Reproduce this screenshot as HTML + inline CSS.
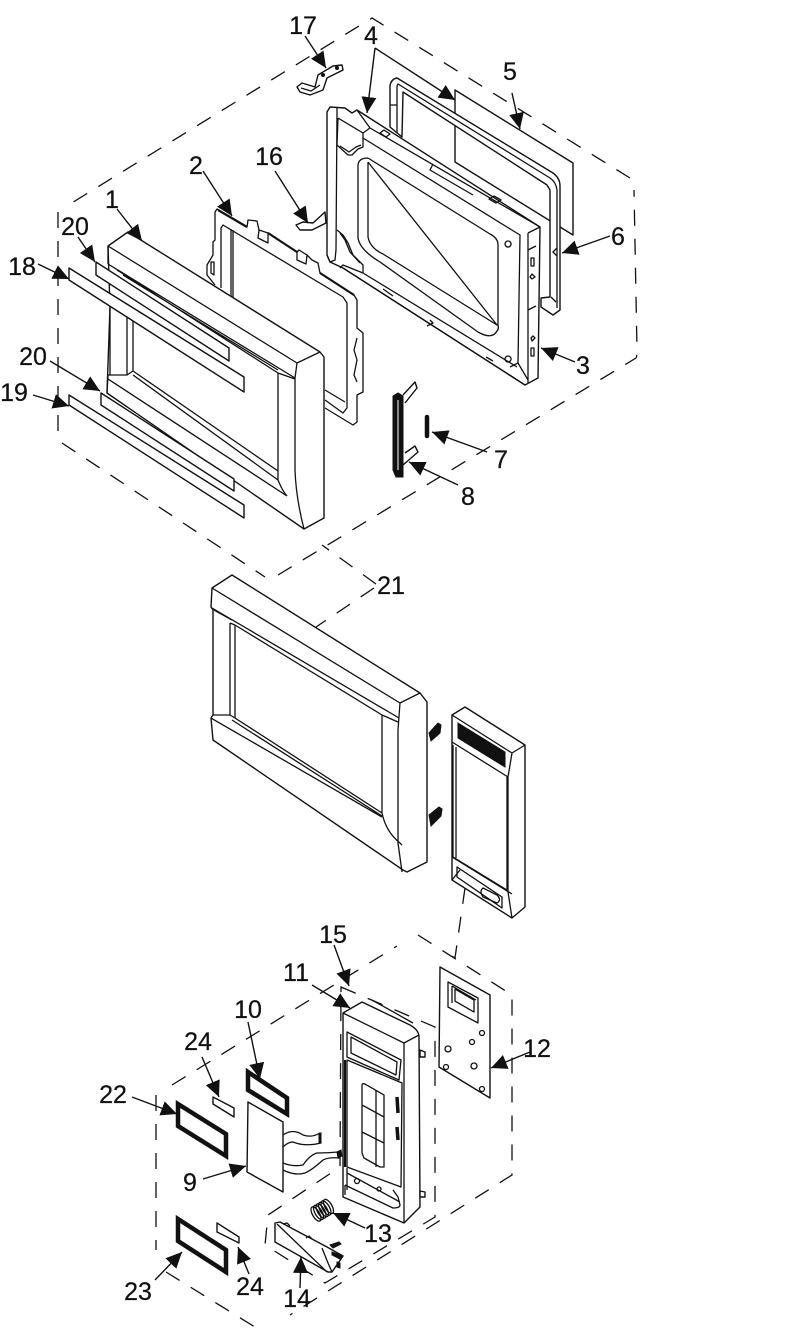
<!DOCTYPE html>
<html><head><meta charset="utf-8"><style>
html,body{margin:0;padding:0;background:#fff}
svg{display:block}
text{font-family:"Liberation Sans",sans-serif;font-size:25px;fill:#111;stroke:#111;stroke-width:.25;text-anchor:middle}
.l{fill:#fff;stroke:#111;stroke-width:1.4;stroke-linejoin:round}
.n{fill:none;stroke:#111;stroke-width:1.3;stroke-linejoin:round}
.t{fill:none;stroke:#111;stroke-width:2.2;stroke-linejoin:round}
.k{fill:#111;stroke:#111;stroke-width:1}
.d{fill:none;stroke:#111;stroke-width:1.3;stroke-dasharray:16 13}
.a{fill:none;stroke:#111;stroke-width:1.4;marker-end:url(#m)}
.f{fill:#fff;stroke:#111;stroke-width:4.5;stroke-linejoin:miter}
</style></head><body>
<svg width="790" height="1333" viewBox="0 0 790 1333" xmlns="http://www.w3.org/2000/svg">
<defs><marker id="m" markerUnits="userSpaceOnUse" markerWidth="17" markerHeight="15" refX="16" refY="7.5" orient="auto"><path d="M0 0L16 7.5L0 15Z" fill="#111"/></marker></defs>
<!-- dashed envelope top -->
<path class="d" d="M58 212V436M62 443L265 577M278 575L636 358Q637 357 637 350L634 190M630 178L372 18L70 204"/>
<path class="d" stroke-dasharray="12 8" d="M376 584L322 545M374 588L316 627"/>
<!-- panel 5, gasket 6 -->
<path class="l" d="M455 90L573 163V235L455 162Z"/>
<path class="l" d="M390 127V86Q391 79 397 78L553 173Q560 178 560 186V310L553 315L541 307V298L550 297V190L547 185L403 92L402 137Z"/>
<path class="n" d="M397 133V86L398 84L550 178Q556 182 557 190V308M390 105H397"/>
<path class="n" d="M551 297L556 302M557 248l-4 4l4 4"/>
<!-- door 3 -->
<path class="l" d="M327 112L330 107L345 108L352 113L357 110L540 227L538 378L525 385L343 268L330 262L327 255Z"/>
<path class="n" d="M337 108V112L336 250M327 255L330 262L335 260L336 250M338 118L363 133L370 128L357 110M338 118L337 145L348 155L352 155L358 149L363 147V133M340 146L349 152L356 147L361 145M370 128L540 227M363 138L520 235L518 363L510 367M528 233V383M528 233L540 227M518 363L528 380"/>
<path class="n" d="M337 230L343 235L348 243L353 255L363 265V273M340 233L345 240L350 252L360 263M340 268L343 265L363 273L517 367M343 268L525 385"/>
<path class="n" d="M368 158Q358 158 358 166V238Q360 250 380 262L478 332Q492 340 497 331Q499 329 498 325V245Q498 238 490 234L368 158M368 162L497 325L383 254Q370 248 368 237V162"/>
<path class="n" d="M380 133L384 130L390 134L386 137ZM433 164L430 170L473 195M489 199L494 196L501 200L496 203ZM383 289L393 296M430 320L433 323L427 326M486 357L493 361"/>
<path class="n" d="M528 250L536 246M528 310L536 306M534 258V266H531V258ZM532 274L535 277L532 279L530 277ZM534 348V356H531V348ZM533 336L535 338L532 341L531 338ZM508 241a3 3 0 1 0 .1 0M508 356a3 3 0 1 0 .1 0"/>
<!-- bracket 17 -->
<path class="l" d="M297 87L302 83L315 87L318 75L333 66L342 65L343 70L327 78L323 90L310 95L300 92Z"/>
<path class="n" d="M301 88L311 91L320 85"/>
<circle cx="337" cy="68" r="1.5" class="k"/><circle cx="323" cy="75" r="1.5" class="k"/>
<!-- bracket 16 -->
<path class="l" d="M296 225L303 222L313 223L325 212L326 223L312 230L300 230Z"/>
<!-- frame 2 -->
<path class="n" d="M215 212L217 209L247 227L248 220L257 221L259 230L268 233L297 252L299 250L307 255L312 260L318 263L320 273L354 295L357 300V328L363 333V392L357 395V422L353 425L325 408"/>
<path class="n" d="M215 212V240L213 242V255L207 265V275L215 285M221 288V228L223 225L343 297L347 303V408L343 413L325 400M325 390L345 402M233 230V297M231 229V296M259 230L258 238L268 243L268 233M297 252V260L306 264L307 255M357 338L354 350L357 360L354 375L357 382M211 262V273L214 275V262Z"/>
<path class="t" d="M218 210L247 227M268 233L297 252M320 273L354 295"/>
<!-- door 1 -->
<path class="l" d="M108 246L128 232L320 352L324 357L324 518L304 529L107 393L110 307Z"/>
<path class="n" d="M108 246L297 363L320 352M108 264L295 378M108 246V264M297 363L295 378M117 270L278 373M123 275L278 370M278 373V480M110 307V375M127 311V375M133 318V371M108 375H127L133 371M133 371L278 471M133 375L278 480M108 375L107 393M108 379L287 496M295 378V470Q296 498 304 529M278 373L295 379M278 480Q283 492 287 496"/>
<!-- strips -->
<path class="l" d="M96 262V275L229 361V348Z"/>
<path class="l" d="M69 268V280L244 392V377Z"/>
<path class="l" d="M101 393V405L234 491V479Z"/>
<path class="l" d="M69 395V405L244 518V505Z"/>
<!-- latch 8 and 7 -->
<path class="l" d="M403 395L415 382L417 388L405 403M405 453L415 446L418 452L403 465"/>
<path class="k" d="M393 396L398 393L403 396L403 477L396 477L393 470Z"/>
<path d="M398 400V470" stroke="#fff" stroke-width="1"/>
<path d="M427 417V436" stroke="#111" stroke-width="4.5" stroke-linecap="round"/>
<!-- door 21 -->
<path class="l" d="M212 588L232 575L420 693L427 702V862L407 872L403 870L213 740L211 718L213 715V610L211 607Z"/>
<path class="n" d="M212 588L400 703L420 693M212 608L399 718M400 703L398 730V843L402 872M214 610L232 620M235 625L382 715V813L235 718ZM230 623V715M213 715H230L235 718M211 718L382 817M230 623L235 625M382 715L398 722M382 813Q386 832 400 843L402 845M232 720L382 816"/>
<path class="k" d="M429 733L438 723L441 725L440 733L431 741Z"/>
<path class="k" d="M429 815L439 807L442 809L441 816L431 826Z"/>
<!-- control face -->
<path class="l" d="M452 715L465 707L525 745V907L512 918L452 880Z"/>
<path class="n" d="M452 715L512 753L525 745M452 742L508 777M512 753L508 777V892L512 918M453 745V857L507 890V777M456 747V858M452 857L512 894M457 867L502 897V908L457 877ZM452 880L460 870"/>
<path class="k" d="M458 723L505 752V767L458 738Z"/>
<path class="n" d="M483 888L497 895Q502 900 497 903L483 897Q479 891 483 888Z"/>
<path class="d" d="M465 888L455 958L450 955"/>
<!-- dashed envelope bottom -->
<path class="d" d="M156 1095V1250M166 1272L263 1332M172 1085L397 946M418 935L512 995V1175L290 1315"/>
<path class="d" stroke-dasharray="10 4" d="M341 987L435 1027V1217L325 1283L265 1245L268 1215L340 1167Z"/>
<!-- plate 12 -->
<path class="l" d="M440 967L490 995V1098L439 1067Z"/>
<path class="n" d="M448 982L478 998V1023L448 1007ZM452 986L476 1000M452 986V1003M455 989L474 1000V1012L455 1001Z"/>
<circle cx="482" cy="1033" r="2.5" class="n"/><circle cx="472" cy="1042" r="2.5" class="n"/><circle cx="448" cy="1049" r="3" class="n"/><circle cx="446" cy="1067" r="2.5" class="n"/><circle cx="474" cy="1066" r="3" class="n"/><circle cx="482" cy="1089" r="2.5" class="n"/>
<!-- panel 11 -->
<path class="l" d="M343 1013L362 1002L410 1025Q419 1030 419 1037L420 1207L404 1223L343 1197Z"/>
<path class="n" d="M343 1013L404 1043V1223M372 1000L413 1023M404 1043L419 1035M347 1032L401 1060L399 1080L347 1057ZM351 1037L397 1062L396 1075L351 1053ZM347 1060L402 1083L401 1187L347 1167ZM362 1085Q362 1083 365 1084L384 1095V1167H380L364 1158L362 1153ZM362 1105L384 1117M362 1132L384 1143M376 1090V1167M347 1173L400 1202M345 1185L393 1208Q400 1208 400 1205L398 1197L393 1190M345 1185V1195M347 1168L347 1190"/>
<path class="t" d="M345 1060V1167"/>
<path d="M397 1097L398 1113M397 1127L398 1140" stroke="#111" stroke-width="3.5"/>
<path class="l" d="M420 1050L425 1052V1057L420 1057ZM420 1191L425 1192V1197L420 1197Z"/>
<circle cx="357" cy="1181" r="2.5" class="n"/><circle cx="379" cy="1189" r="2" class="n"/>
<!-- spring 13 -->
<g class="n" stroke-width="1.1"><ellipse cx="316" cy="1214" rx="3.5" ry="8" transform="rotate(-30 316 1214)"/><ellipse cx="318.500" cy="1212.500" rx="3.500" ry="8" transform="rotate(-30 318.500 1212.500)"/><ellipse cx="321" cy="1211" rx="3.500" ry="8" transform="rotate(-30 321 1211)"/><ellipse cx="323.500" cy="1209.500" rx="3.500" ry="8" transform="rotate(-30 323.500 1209.500)"/><ellipse cx="326" cy="1208" rx="3.500" ry="8" transform="rotate(-30 326 1208)"/><ellipse cx="328.500" cy="1206.500" rx="3.500" ry="8" transform="rotate(-30 328.500 1206.500)"/></g>
<!-- trigger 14 -->
<path class="l" d="M275 1223L280 1222L327 1247L343 1256L332 1272L328 1272L275 1242Z"/>
<path class="n" d="M277 1224L327 1272M322 1248L328 1263L332 1272M283 1224l4 -1l3 3M306 1238l3 -2l3 3"/>
<path class="k" d="M330 1245l9 -3l2 2l-8 4zM332 1252l11 4l-3 3l-8 -4zM337 1262l3 1v5l-3 -1z"/>
<!-- 9 -->
<path class="n" d="M283 1135Q293 1128 303 1135Q312 1138 320 1133L321 1143Q305 1147 293 1142Q288 1142 283 1147M283 1163Q293 1167 303 1165Q310 1155 317 1153Q328 1153 338 1152L340 1158Q328 1157 323 1160Q312 1170 305 1173Q295 1176 283 1170"/>
<path class="l" d="M248 1102L283 1122V1192L247 1172Z"/>
<path class="k" d="M337 1152l4 -2l1 6l-4 2z"/>
<path class="k" d="M319 1134l2 -1v9l-2 1z"/>
<!-- 10, 22, 23, 24 -->
<path class="f" d="M248 1072L287 1098V1114L248 1090Z"/>
<path class="f" d="M178 1104L226 1134V1156L178 1126Z"/>
<path class="f" d="M178 1219L226 1250V1272L178 1241Z"/>
<path class="l" d="M213 1097L234 1108V1117L213 1104Z"/>
<path class="l" d="M217 1223L239 1237V1243L217 1232Z"/>
<!-- leaders -->
<path class="a" d="M305 36L326 68"/>
<path class="a" d="M375 48L455 100"/>
<path class="a" d="M375 48L367 113"/>
<path class="a" d="M512 93L520 129"/>
<path class="a" d="M203 171L232 216"/>
<path class="a" d="M275 171L308 223"/>
<path class="a" d="M117 209L142 241"/>
<path class="a" d="M78 237L95 262"/>
<path class="a" d="M38 264L69 279"/>
<path class="a" d="M50 361L100 391"/>
<path class="a" d="M33 395L69 406"/>
<path class="a" d="M610 236L562 253"/>
<path class="a" d="M575 362L541 348"/>
<path class="a" d="M487 452L432 432"/>
<path class="a" d="M458 485L409 462"/>
<path class="a" d="M334 945L349 986"/>
<path class="a" d="M312 985L350 1008"/>
<path class="a" d="M248 1022L260 1079"/>
<path class="a" d="M202 1057L219 1097"/>
<path class="a" d="M132 1097L177 1114"/>
<path class="a" d="M530 1052L491 1068"/>
<path class="a" d="M203 1179L246 1166"/>
<path class="a" d="M365 1228L333 1213"/>
<path class="a" d="M155 1280L182 1252"/>
<path class="a" d="M249 1274L238 1247"/>
<path class="a" d="M300 1288L301 1257"/>
<!-- labels -->
<text x="303" y="34">17</text><text x="371" y="44">4</text><text x="510" y="80">5</text>
<text x="196" y="174">2</text><text x="269" y="165">16</text><text x="112" y="208">1</text>
<text x="75" y="235">20</text><text x="22" y="275">18</text><text x="33" y="365">20</text>
<text x="14" y="401">19</text><text x="618" y="245">6</text><text x="583" y="374">3</text>
<text x="501" y="468">7</text><text x="468" y="505">8</text><text x="391" y="594">21</text>
<text x="333" y="943">15</text><text x="296" y="981">11</text><text x="248" y="1018">10</text>
<text x="198" y="1050">24</text><text x="113" y="1103">22</text><text x="537" y="1057">12</text>
<text x="190" y="1191">9</text><text x="378" y="1242">13</text><text x="138" y="1300">23</text>
<text x="250" y="1295">24</text><text x="297" y="1307">14</text>
</svg>
</body></html>
